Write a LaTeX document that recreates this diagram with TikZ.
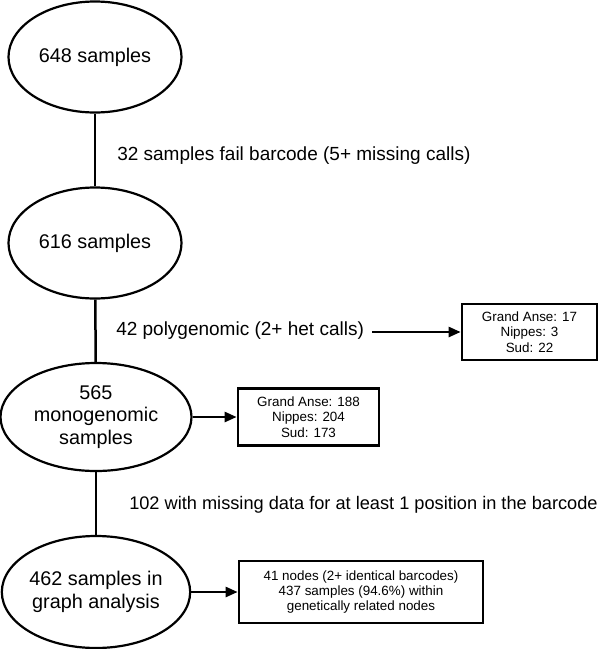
\documentclass[tikz,border=0pt]{standalone}
\usepackage{fontspec}
\setmainfont{Liberation Sans}
\usetikzlibrary{shapes.geometric,arrows.meta}
\begin{document}
\begin{tikzpicture}[x=1pt, y=-1pt, line width=2.5pt,
    stage/.style={ellipse, draw, line width=2.2pt, inner sep=0pt, align=center, font=\fontsize{19.8}{22.5}\selectfont},
    tally/.style={rectangle, draw, line width=2.7pt, inner sep=0pt, align=center, font=\fontsize{13.4}{15.4}\selectfont},
    note/.style={anchor=west, inner sep=0pt, font=\fontsize{19}{22}\selectfont},
    tip/.style={-{Triangle[length=12pt,width=10pt]}}]
  \useasboundingbox (0,0) rectangle (598,649);
  % sample counts
  \node [stage, minimum width=173pt, minimum height=111pt] (s648) at (95,57) {648 samples};
  \node [stage, minimum width=173pt, minimum height=111pt] (s616) at (95,243) {616 samples};
  \node [stage, minimum width=191pt, minimum height=108pt] (s565) at (96,417) {565\\monogenomic\\samples};
  \node [stage, minimum width=188pt, minimum height=112pt] (s462) at (96,592) {462 samples in\\graph analysis};
  % filters
  \node [note] (fail) at (116,156) {32 samples fail barcode (5+ missing calls)};
  \node [note] (poly) at (115,331) {42 polygenomic (2+ het calls)};
  \node [note, font=\fontsize{18.2}{22}\selectfont] (miss) at (128,505) {102 with missing data for at least 1 position in the barcode};
  % regional tallies
  \node [tally, minimum width=135pt, minimum height=56pt] (t17) at (529.5,332) {Grand Anse: 17\\Nippes: 3\\Sud: 22};
  \node [tally, minimum width=141pt, minimum height=57pt] (t188) at (308.5,417) {Grand Anse: 188\\Nippes: 204\\Sud: 173};
  \node [tally, minimum width=244pt, minimum height=62pt] (t41) at (361,592) {41 nodes (2+ identical barcodes)\\437 samples (94.6\%) within\\genetically related nodes};
  \draw (s648) -- (s616);
  \draw (s616) -- (s565);
  \draw (s565) -- (s462);
  \draw [tip, shorten <=7pt] (poly.east |- t17.west) -- (t17.west);
  \draw [tip] (s565.east) -- (t188.west);
  \draw [tip] (s462.east) -- (t41.west);
\end{tikzpicture}
\end{document}
